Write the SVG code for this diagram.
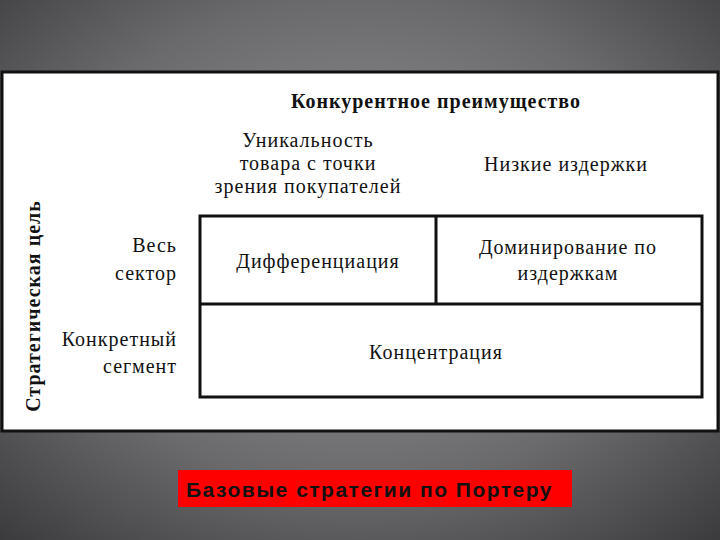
<svg xmlns="http://www.w3.org/2000/svg" width="720" height="540" viewBox="0 0 720 540">
<defs>
<radialGradient id="bg" cx="0.5" cy="0.45" r="0.75">
<stop offset="0" stop-color="#9a9a9c"/><stop offset="0.6" stop-color="#6a6a6c"/><stop offset="1" stop-color="#3a3a3c"/>
</radialGradient>
<style>
.t{font-family:"Liberation Serif","DejaVu Serif",serif;font-size:20px;letter-spacing:1px;fill:#111;text-anchor:middle}
.r{text-anchor:end}
.ln{stroke:#111;stroke-width:3;fill:none}
</style>
</defs>
<rect width="720" height="540" fill="url(#bg)"/>
<rect x="2" y="72" width="716" height="359" fill="#fff" stroke="#111" stroke-width="3"/>
<g id="header">
<text class="t" x="436" y="108" font-weight="bold" font-size="19" letter-spacing="1.2">Конкурентное преимущество</text>
<text class="t" x="308" y="147">Уникальность</text>
<text class="t" x="308" y="170">товара с точки</text>
<text class="t" x="308" y="193">зрения покупателей</text>
<text class="t" x="566" y="171">Низкие издержки</text>
</g>
<g id="axis">
<text class="t" x="0" y="0" font-weight="bold" font-size="21" letter-spacing="0.5" transform="translate(40,306) rotate(-90)">Стратегическая цель</text>
<text class="t r" x="177" y="252">Весь</text>
<text class="t r" x="177" y="280">сектор</text>
<text class="t r" x="177" y="346">Конкретный</text>
<text class="t r" x="177" y="373">сегмент</text>
</g>
<g id="connectors">
<rect class="ln" x="200" y="216" width="502" height="181"/>
<line class="ln" x1="200" y1="304" x2="702" y2="304"/>
<line class="ln" x1="436" y1="216" x2="436" y2="304"/>
</g>
<g id="diff"><text class="t" x="318" y="268">Дифференциация</text></g>
<g id="dom"><text class="t" x="568" y="254">Доминирование по</text><text class="t" x="568" y="280">издержкам</text></g>
<g id="conc"><text class="t" x="436" y="359">Концентрация</text></g>
<g id="caption">
<rect x="178" y="470" width="394" height="37" fill="#ff0000"/>
<text x="186" y="497" font-family="Liberation Sans,Arial,sans-serif" font-size="21" font-weight="bold" letter-spacing="1.5" fill="#111">Базовые стратегии по Портеру</text>
</g>
</svg>
